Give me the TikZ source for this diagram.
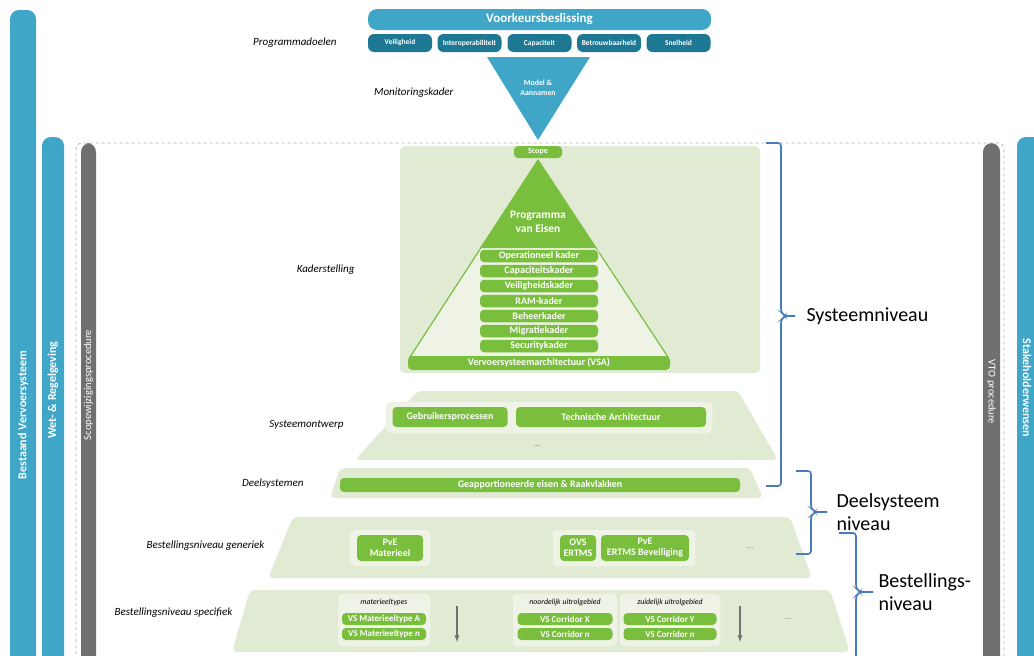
\documentclass[tikz,border=0pt]{standalone}
\usepackage{fontspec}
\setmainfont{Carlito}
\usetikzlibrary{positioning}

\definecolor{pbBlue}{RGB}{64,166,200}
\definecolor{pbTeal}{RGB}{30,120,148}
\definecolor{pbGreen}{RGB}{122,190,62}
\definecolor{pbPanel}{RGB}{225,235,212}
\definecolor{pbVak}{RGB}{238,243,230}
\definecolor{pbGrey}{RGB}{112,112,112}
\definecolor{pbBrace}{RGB}{72,122,190}

\begin{document}
\begin{tikzpicture}[x=1pt, y=-1pt,
    doel/.style={fill=pbTeal, rounded corners=6pt, text=white, minimum width=64, minimum height=18, inner sep=0pt, font=\bfseries\fontsize{7.5}{9}\selectfont},
    pil/.style={fill=pbGreen, rounded corners=4pt, text=white, inner sep=0pt, align=center, font=\bfseries\fontsize{10}{11}\selectfont},
    pilk/.style={pil, font=\bfseries\fontsize{9}{10}\selectfont},
    lbl/.style={anchor=east, font=\itshape\fontsize{11}{13}\selectfont},
    klein/.style={font=\itshape\fontsize{7.8}{9}\selectfont},
    puntjes/.style={text=gray, font=\fontsize{9}{10}\selectfont},
    paneel/.style={fill=pbPanel, rounded corners=5pt},
    vak/.style={fill=pbVak, rounded corners=4pt},
    balk/.style={rounded corners=9pt},
    balktxt/.style={text=white, font=\bfseries\fontsize{12}{14}\selectfont},
    grijstxt/.style={text=white, font=\fontsize{10.5}{12}\selectfont},
    accolade/.style={draw=pbBrace, line width=1.6pt, rounded corners=3pt},
    niveau/.style={align=left, font=\fontsize{20}{23}\selectfont},
    pijl/.style={draw=pbGrey, line width=1.3pt, -latex}]
  \useasboundingbox (0,0) rectangle (1034,656);
  \fill[white] (0,0) rectangle (1034,656);

  % zijbalken
  \fill[balk, pbBlue] (10,10) rectangle (36,690);
  \node[balktxt, rotate=90] (bvs) at (23,415) {Bestaand Vervoersysteem};
  \fill[balk, pbBlue] (42,137) rectangle (64,690);
  \node[balktxt, rotate=90] (wrg) at (53,390) {Wet- \& Regelgeving};
  \fill[balk, pbGrey] (81,143) rectangle (96,690);
  \node[grijstxt, rotate=90] (swp) at (88.5,385) {Scopewijzigingsprocedure};
  \fill[balk, pbGrey] (983,143) rectangle (1000,690);
  \node[grijstxt, rotate=-90] (vto) at (991.5,392) {VTO procedure};
  \fill[balk, pbBlue] (1017,137) rectangle (1045,690);
  \node[balktxt, rotate=-90] (shw) at (1027,388) {Stakeholderwensen};

  \draw[dashed, draw=gray!60, line width=0.8pt, rounded corners=6pt] (76,690) -- (76,143) -- (1004,143) -- (1004,690);

  % voorkeursbeslissing
  \node[fill=pbBlue, rounded corners=9pt, text=white, minimum width=343, minimum height=21, inner sep=0pt, font=\bfseries\fontsize{13}{15}\selectfont] (vkb) at (539.5,19.5) {Voorkeursbeslissing};
  \node[doel] (d1) at (400,43) {Veiligheid};
  \node[doel] (d2) at (469.5,43) {Interoperabiliteit};
  \node[doel] (d3) at (539.5,43) {Capaciteit};
  \node[doel] (d4) at (609,43) {Betrouwbaarheid};
  \node[doel] (d5) at (678.5,43) {Snelheid};
  \node[lbl] (lpd) at (340,43) {Programmadoelen};

  \fill[pbBlue] (487,57) -- (590,57) -- (538,140) -- cycle;
  \node[text=white, align=center, font=\bfseries\fontsize{7.8}{9.5}\selectfont] (mod) at (538,88) {Model \&\\Aannamen};
  \node[lbl] (lmk) at (457,93) {Monitoringskader};

  % kaderstelling
  \fill[paneel] (400,146) rectangle (760,373);
  \draw[draw=pbGreen, fill=pbVak, line width=1.2pt] (538,160) -- (668,357) -- (410,357) -- cycle;
  \fill[pbGreen] (538,160) -- (596,248) -- (480,248) -- cycle;
  \fill[vak] (479,249) rectangle (599,354);
  \node[pil, minimum width=48, minimum height=12, font=\bfseries\fontsize{8}{9}\selectfont] (scope) at (538,152) {Scope};
  \node[text=white, align=center, font=\bfseries\fontsize{11.5}{14}\selectfont] (pve) at (538,222) {Programma\\van Eisen};
  \foreach \naam [count=\i] in {Operationeel kader, Capaciteitskader, Veiligheidskader, RAM-kader, Beheerkader, Migratiekader, Securitykader}
    \node[pil, minimum width=118, minimum height=12.5] (k\i) at (539,241+15*\i) {\naam};
  \node[pil, minimum width=262, minimum height=14] (vsa) at (539,363) {Vervoersysteemarchitectuur (VSA)};
  \node[lbl] (lks) at (358,270) {Kaderstelling};

  % systeemontwerp
  \fill[paneel] (418,391) -- (738,391) -- (778,460) -- (355,460) -- cycle;
  \fill[vak] (386,402) rectangle (712,433);
  \node[pil, minimum width=115, minimum height=20] (gbp) at (450,417) {Gebruikersprocessen};
  \node[pil, minimum width=190, minimum height=20] (tca) at (611,417) {Technische Architectuur};
  \node[puntjes] (so3) at (537,446) {...};
  \node[lbl] (lso) at (347,425) {Systeemontwerp};

  % deelsystemen
  \fill[paneel] (340,468) -- (750,468) -- (763,498) -- (330,498) -- cycle;
  \node[pil, minimum width=400, minimum height=14] (gea) at (540,485) {Geapportioneerde eisen \& Raakvlakken};
  \node[lbl] (lds) at (307,484) {Deelsystemen};

  % bestellingsniveau generiek
  \fill[paneel] (293,517) -- (790,517) -- (812,578) -- (268,578) -- cycle;
  \fill[vak] (350,530) rectangle (430,566);
  \fill[vak] (553,530) rectangle (695,566);
  \node[pil, minimum width=66, minimum height=26] (pvm) at (390,548) {PvE\\Materieel};
  \node[pil, minimum width=36, minimum height=26] (ovs) at (578,548) {OVS\\ERTMS};
  \node[pil, minimum width=88, minimum height=26] (pvb) at (645,548) {PvE\\ERTMS Beveiliging};
  \node[puntjes] (bg3) at (750,548) {...};
  \node[lbl] (lbg) at (268,546) {Bestellingsniveau generiek};

  % bestellingsniveau specifiek
  \fill[paneel] (250,590) -- (830,590) -- (850,652) -- (232,652) -- cycle;
  \fill[vak] (338,594) rectangle (430,646);
  \fill[vak] (513,594) rectangle (617,646);
  \fill[vak] (620,594) rectangle (720,646);
  \node[klein] (kmt) at (384,602) {materieeltypes};
  \node[klein] (knu) at (565,602) {noordelijk uitrolgebied};
  \node[klein] (kzu) at (670,602) {zuidelijk uitrolgebied};
  \node[pilk, minimum width=84, minimum height=12] (vma) at (384,619) {VS Materieeltype A};
  \node[pilk, minimum width=84, minimum height=12] (vmn) at (384,634) {VS Materieeltype \textit{n}};
  \node[pilk, minimum width=95, minimum height=12] (vcx) at (565,619) {VS Corridor X};
  \node[pilk, minimum width=95, minimum height=12] (vcn) at (565,634) {VS Corridor \textit{n}};
  \node[pilk, minimum width=93, minimum height=12] (vcy) at (670,619) {VS Corridor Y};
  \node[pilk, minimum width=93, minimum height=12] (vcm) at (670,634) {VS Corridor \textit{n}};
  \coordinate (p1a) at (457,606);
  \coordinate (p1b) at (457,642);
  \coordinate (p2a) at (740,606);
  \coordinate (p2b) at (740,642);
  \draw[pijl] (p1a) -- (p1b);
  \draw[pijl] (p2a) -- (p2b);
  \node[puntjes] (bs3) at (788,619) {...};
  \node[lbl] (lbs) at (236,613) {Bestellingsniveau specifiek};

  % accolades
  \coordinate (sysT) at (795,316);
  \draw[accolade] (766,143) -- (781,143) -- (781,312) -- (785,316) -- (sysT);
  \draw[accolade] (sysT) -- (785,316) -- (781,320) -- (781,486) -- (766,486);
  \node[niveau, right=8pt of sysT] (sysL) {Systeemniveau};

  \coordinate (dlsT) at (827,512);
  \draw[accolade] (796,471) -- (811,471) -- (811,508) -- (815,512) -- (dlsT);
  \draw[accolade] (dlsT) -- (815,512) -- (811,516) -- (811,554) -- (796,554);
  \node[niveau, right=6pt of dlsT] (dlsL) {Deelsysteem\\niveau};

  \coordinate (bstT) at (873,592);
  \draw[accolade] (839,533) -- (856,533) -- (856,588) -- (860,592) -- (bstT);
  \draw[accolade] (bstT) -- (860,592) -- (856,596) -- (856,690);
  \node[niveau, right=2pt of bstT] (bstL) {Bestellings-\\niveau};
\end{tikzpicture}
\end{document}
